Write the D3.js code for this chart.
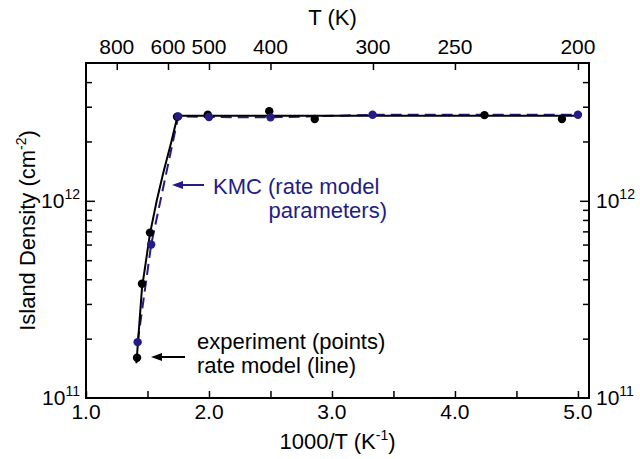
<!DOCTYPE html>
<html>
<head>
<meta charset="utf-8">
<script src="https://cdn.jsdelivr.net/npm/d3@7"></script>
<style>
  body { margin: 0; background: #fff; }
  text { font-family: "Liberation Sans", Arial, Helvetica, sans-serif; }
</style>
</head>
<body>
<div id="vis"></div>
<script>
// experiment (points)
var expX = [1.415, 1.455, 1.52, 1.74, 1.99, 2.49, 2.86, 4.24, 4.87];
var expY = [1.6e11, 3.8e11, 6.9e11, 2.67e12, 2.73e12, 2.85e12, 2.6e12, 2.72e12, 2.6e12];

// rate model (line)
var rateX = [1.41, 1.455, 1.52, 1.575, 1.63, 1.69, 1.745, 5.0];
var rateY = [1.5e11, 3.6e11, 6.8e11, 1.0e12, 1.4e12, 1.95e12, 2.7e12, 2.7e12];

// KMC (rate model parameters)
var kmcX = [1.42, 1.53, 1.75, 2.0, 2.5, 3.33, 5.0];
var kmcY = [1.92e11, 6.0e11, 2.68e12, 2.66e12, 2.65e12, 2.73e12, 2.73e12];

var xTicks = [1.0, 1.5, 2.0, 2.5, 3.0, 3.5, 4.0, 4.5, 5.0];
var xTickLabels = ['1.0', '2.0', '3.0', '4.0', '5.0'];
var tempTicks = [800, 600, 500, 400, 300, 250, 200];

var width = 640;
var height = 459;
var margin = {top: 63, right: 51, bottom: 61, left: 86};
var navy = '#231c86';
var fsTick = 21;
var fsText = 22;

var svg = d3.select('#vis').append('svg')
    .attr('width', width)
    .attr('height', height);

var x = d3.scaleLinear()
    .domain([1.0, 5.09])
    .range([margin.left, width - margin.right]);

var y = d3.scaleLog()
    .domain([1e11, 5e12])
    .range([height - margin.bottom, margin.top]);

var x0 = margin.left, x1 = width - margin.right;
var y0 = height - margin.bottom, y1 = margin.top;

// ticks (inward)
var bottomAxis = d3.axisTop(x).tickValues(xTicks).tickSize(7).tickFormat('');
svg.append('g').attr('transform', 'translate(0,' + y0 + ')').call(bottomAxis);

var topAxis = d3.axisBottom(x).tickValues(tempTicks.map(function (t) { return 1000 / t; }))
    .tickSize(7).tickFormat('');
svg.append('g').attr('transform', 'translate(0,' + y1 + ')').call(topAxis);

var yMinor = [];
[1e11, 1e12].forEach(function (dec) {
    for (var k = 2; k <= 9; k++) {
        if (dec * k < 5e12) yMinor.push(dec * k);
    }
});
var leftAxis = d3.axisRight(y).tickValues(yMinor).tickSize(6).tickFormat('');
svg.append('g').attr('transform', 'translate(' + x0 + ',0)').call(leftAxis);
var rightAxis = d3.axisLeft(y).tickValues(yMinor).tickSize(6).tickFormat('');
svg.append('g').attr('transform', 'translate(' + x1 + ',0)').call(rightAxis);
var leftMajor = d3.axisRight(y).tickValues([1e12]).tickSize(9).tickFormat('');
svg.append('g').attr('transform', 'translate(' + x0 + ',0)').call(leftMajor);
var rightMajor = d3.axisLeft(y).tickValues([1e12]).tickSize(9).tickFormat('');
svg.append('g').attr('transform', 'translate(' + x1 + ',0)').call(rightMajor);

svg.selectAll('.domain').remove();
svg.selectAll('.tick line').attr('stroke', '#000').attr('stroke-width', 1.5);

// frame
svg.append('rect')
    .attr('x', x0).attr('y', y1)
    .attr('width', x1 - x0).attr('height', y0 - y1)
    .attr('fill', 'none').attr('stroke', '#000').attr('stroke-width', 2);

// tick labels
svg.selectAll('.xlab').data(xTickLabels).enter().append('text')
    .attr('x', function (d) { return x(+d); })
    .attr('y', y0 + 21)
    .attr('text-anchor', 'middle')
    .attr('font-size', fsTick)
    .text(function (d) { return d; });

svg.selectAll('.tlab').data(tempTicks).enter().append('text')
    .attr('x', function (d) { return x(1000 / d); })
    .attr('y', y1 - 9)
    .attr('text-anchor', 'middle')
    .attr('font-size', fsTick)
    .text(function (d) { return d; });

function powLabel(px, py, anchor, exp) {
    var t = svg.append('text')
        .attr('x', px).attr('y', py)
        .attr('text-anchor', anchor)
        .attr('font-size', fsTick);
    t.append('tspan').text('10');
    t.append('tspan').attr('font-size', 14).attr('dy', -9).text(exp);
}
powLabel(x0 - 6, y(1e12) + 7, 'end', '12');
powLabel(x0 - 6, y0 + 7, 'end', '11');
powLabel(x1 + 7, y(1e12) + 7, 'start', '12');
powLabel(x1 + 7, y0 + 7, 'start', '11');

// axis titles
var xt = svg.append('text')
    .attr('x', (x0 + x1) / 2).attr('y', y0 + 51)
    .attr('text-anchor', 'middle').attr('font-size', fsText);
xt.append('tspan').text('1000/T (K');
xt.append('tspan').attr('font-size', 14).attr('dy', -9).text('-1');
xt.append('tspan').attr('dy', 9).text(')');

svg.append('text')
    .attr('x', (x0 + x1) / 2 - 5).attr('y', 25)
    .attr('text-anchor', 'middle').attr('font-size', fsText)
    .text('T (K)');

var yt = svg.append('text')
    .attr('transform', 'translate(35,' + ((y0 + y1) / 2) + ') rotate(-90)')
    .attr('text-anchor', 'middle').attr('font-size', fsText);
yt.append('tspan').text('Island Density (cm');
yt.append('tspan').attr('font-size', 14).attr('dy', -9).text('-2');
yt.append('tspan').attr('dy', 9).text(')');

// lines
var line = d3.line()
    .x(function (d) { return x(d[0]); })
    .y(function (d) { return y(d[1]); });

svg.append('path')
    .datum(d3.zip(kmcX, kmcY))
    .attr('d', line)
    .attr('fill', 'none')
    .attr('stroke', navy)
    .attr('stroke-width', 2)
    .attr('stroke-dasharray', '11,6');

svg.append('path')
    .datum(d3.zip(rateX, rateY))
    .attr('d', line)
    .attr('fill', 'none')
    .attr('stroke', '#000')
    .attr('stroke-width', 2);

// points
svg.selectAll('.exp').data(d3.zip(expX, expY)).enter().append('circle')
    .attr('cx', function (d) { return x(d[0]); })
    .attr('cy', function (d) { return y(d[1]); })
    .attr('r', 4.2)
    .attr('fill', '#000');

svg.selectAll('.kmc').data(d3.zip(kmcX, kmcY)).enter().append('circle')
    .attr('cx', function (d) { return x(d[0]); })
    .attr('cy', function (d) { return y(d[1]); })
    .attr('r', 4.2)
    .attr('fill', navy);

// annotations
function arrow(xa, xb, yy, color) {
    svg.append('line')
        .attr('x1', xa).attr('x2', xb + 6).attr('y1', yy).attr('y2', yy)
        .attr('stroke', color).attr('stroke-width', 2);
    svg.append('path')
        .attr('d', 'M' + xb + ',' + yy + 'L' + (xb + 11) + ',' + (yy - 4) + 'L' + (xb + 11) + ',' + (yy + 4) + 'Z')
        .attr('fill', color);
}
arrow(204, 172, 185, navy);
arrow(185, 151, 357, '#000');

svg.append('text')
    .attr('x', 213).attr('y', 194)
    .attr('font-size', fsText).attr('fill', navy)
    .text('KMC (rate model');
svg.append('text')
    .attr('x', 387).attr('y', 218)
    .attr('text-anchor', 'end')
    .attr('font-size', fsText).attr('fill', navy)
    .text('parameters)');

svg.append('text')
    .attr('x', 197).attr('y', 349)
    .attr('font-size', fsText)
    .text('experiment (points)');
svg.append('text')
    .attr('x', 197).attr('y', 373)
    .attr('font-size', fsText)
    .text('rate model (line)');
</script>
</body>
</html>
